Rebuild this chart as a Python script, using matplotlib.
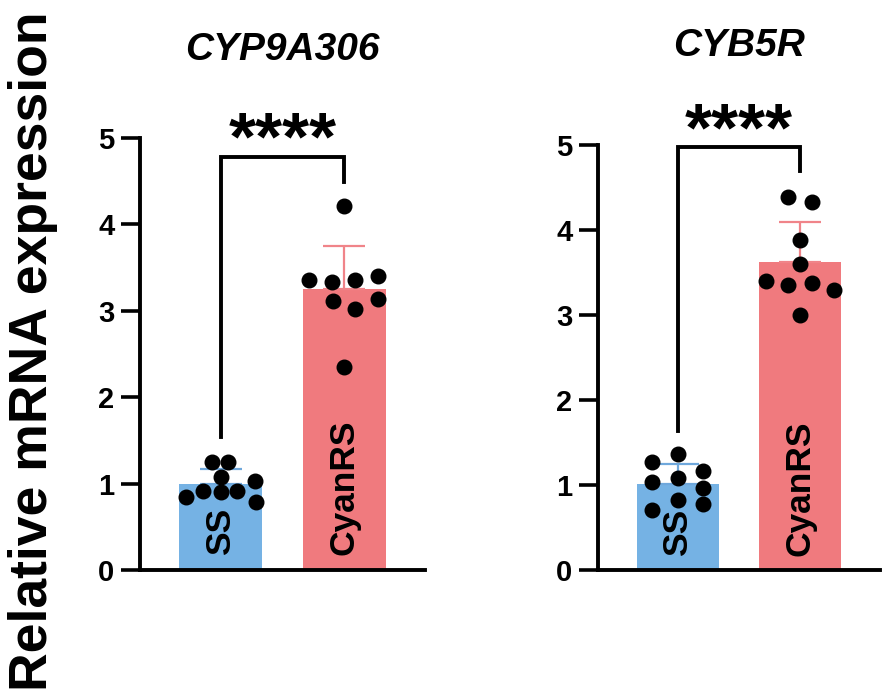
import numpy as np
import matplotlib
matplotlib.use('Agg')
from matplotlib import pyplot as plt

plt.rcParams['font.family'] = ['Liberation Sans', 'DejaVu Sans']
plt.rcParams['font.weight'] = 'bold'

# data
genes = ['CYP9A306', 'CYB5R']
groups = ['SS', 'CyanRS']

cyp_mean = [1.00, 3.25]
cyp_err = [0.17, 0.50]
cyp_ss = [1.25, 1.25, 1.08, 1.03, 0.85, 0.92, 0.90, 0.92, 0.79]
cyp_ss_dx = [-0.07, 0.063, 0.0, 0.28, -0.28, -0.14, 0.0, 0.135, 0.285]
cyp_rs = [4.21, 3.36, 3.33, 3.36, 3.40, 3.11, 3.02, 3.14, 2.35]
cyp_rs_dx = [0.0, -0.29, -0.10, 0.085, 0.27, -0.09, 0.085, 0.27, 0.0]

cyb_mean = [1.01, 3.62]
cyb_err = [0.24, 0.48]
cyb_ss = [1.27, 1.36, 1.17, 1.03, 1.08, 0.96, 0.71, 0.82, 0.78]
cyb_ss_dx = [-0.21, 0.0, 0.207, -0.21, 0.0, 0.207, -0.21, 0.0, 0.207]
cyb_rs = [4.39, 4.33, 3.88, 3.60, 3.40, 3.35, 3.38, 3.30, 3.00]
cyb_rs_dx = [-0.10, 0.093, 0.0, 0.0, -0.283, -0.10, 0.093, 0.277, 0.0]

# significance brackets: left leg bottom, top, right leg bottom, star height
cyp_sig = [1.54, 4.78, 4.49, 4.96]
cyb_sig = [1.63, 4.98, 4.69, 5.15]

colors = ['#75B2E4', '#F07A7E']
err_colors = ['#6FA8DC', '#F08489']

fig = plt.figure(figsize=(8.86, 6.94), dpi=100)
ax1 = fig.add_axes([140/886, 124/694, 285/886, 432/694])
ax2 = fig.add_axes([598/886, 124/694, 282/886, 425/694])

panels = [
    (ax1, cyp_mean, cyp_err, [(cyp_ss, cyp_ss_dx), (cyp_rs, cyp_rs_dx)], cyp_sig),
    (ax2, cyb_mean, cyb_err, [(cyb_ss, cyb_ss_dx), (cyb_rs, cyb_rs_dx)], cyb_sig),
]

for ax, mean, err, pts, sig in panels:
    x = np.arange(len(groups))
    ax.bar(x, mean, width=0.67, color=colors, zorder=1)
    for i in range(len(groups)):
        ax.errorbar(x[i], mean[i], yerr=[[0], [err[i]]], fmt='none',
                    ecolor=err_colors[i], elinewidth=1.6, capsize=15,
                    capthick=1.6, zorder=2)
        vals, dx = pts[i]
        ax.scatter(x[i] + np.array(dx), vals, s=110, color='black',
                   zorder=3, clip_on=False)
        ax.text(x[i], 0.17, groups[i], rotation=90, ha='center', va='bottom',
                fontsize=25.5, fontweight='bold', zorder=4)
    # bracket
    ax.plot([0, 0, 1, 1], [sig[0], sig[1], sig[1], sig[2]], color='black',
            lw=2.8, clip_on=False, solid_joinstyle='miter')
    ax.text(0.5, sig[3], '****', ha='center', va='center', fontsize=50,
            fontweight='bold')

    ax.set_xlim(-0.65, 1.65)
    ax.set_ylim(0, 5)
    ax.set_xticks([])
    ax.set_yticks(range(6))
    ax.spines['top'].set_visible(False)
    ax.spines['right'].set_visible(False)
    ax.spines['left'].set_linewidth(2.8)
    ax.spines['bottom'].set_linewidth(2.8)
    ax.tick_params(axis='y', length=13.5, width=2.6, labelsize=21, pad=5)
    for lab in ax.get_yticklabels():
        lab.set_fontweight('bold')

fig.text(282.5/886, 1 - 50/694, genes[0], ha='center', va='center',
         fontsize=28, fontweight='bold', style='italic')
fig.text(739/886, 1 - 46/694, genes[1], ha='center', va='center',
         fontsize=28, fontweight='bold', style='italic')
fig.text(33/886, 1 - 351/694, 'Relative mRNA expression', rotation=90,
         ha='center', va='center', fontsize=38.5, fontweight='bold')

fig.savefig('out.png', dpi=100)
